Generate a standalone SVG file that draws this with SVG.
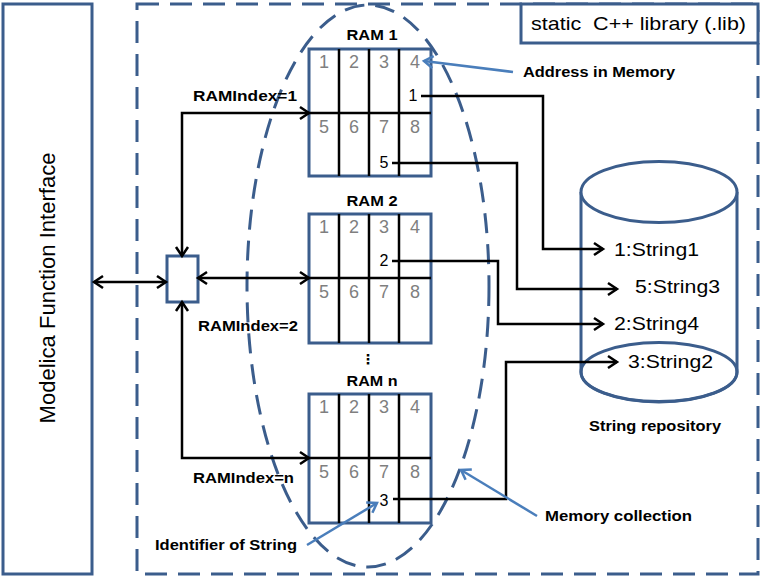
<svg xmlns="http://www.w3.org/2000/svg" width="763" height="577" viewBox="0 0 763 577">
<style>
.blue{fill:none;stroke:#3b5d8c;stroke-width:3}
.dash{fill:none;stroke:#3b5d8c;stroke-width:3;stroke-dasharray:22 11}
.blk{fill:none;stroke:#000;stroke-width:2.5}
.barrow{fill:none;stroke:#4a7ebb;stroke-width:2.5}
.grid{fill:#fff;stroke:#3b5d8c;stroke-width:3}
.gl{stroke:#000;stroke-width:2.5}
.t{font-family:"Liberation Sans",Arial,sans-serif}
.b{font-family:"Liberation Sans",Arial,sans-serif;font-weight:bold;font-size:15px;fill:#000}
.g{font-family:"Liberation Sans",Arial,sans-serif;font-size:18px;fill:#7f7f7f;text-anchor:middle}
.n{font-family:"Liberation Sans",Arial,sans-serif;font-size:16px;fill:#000;text-anchor:middle}
.s{font-family:"Liberation Sans",Arial,sans-serif;font-size:18px;fill:#000}
</style>
<defs>
<marker id="ah" markerWidth="14" markerHeight="16" refX="11" refY="8" orient="auto-start-reverse" markerUnits="userSpaceOnUse">
<path d="M2,2 L11,8 L2,14" fill="none" stroke="#000" stroke-width="2.5"/>
</marker>
<marker id="bh" markerWidth="14" markerHeight="16" refX="11" refY="8" orient="auto" markerUnits="userSpaceOnUse">
<path d="M2,2 L11,8 L2,14" fill="none" stroke="#4a7ebb" stroke-width="2.5"/>
</marker>
</defs>
<rect width="763" height="577" fill="#fff"/>

<g id="interface">
<rect class="blue" x="3" y="4" width="89" height="570"/>
<text class="t" font-size="22" transform="translate(55,288) rotate(-90)" text-anchor="middle" textLength="271" lengthAdjust="spacingAndGlyphs">Modelica Function Interface</text>
</g>

<g id="library">
<rect class="dash" x="137" y="4" width="621" height="570"/>
<rect x="521" y="4" width="237" height="39" fill="#fff" stroke="#3b5d8c" stroke-width="3"/>
<text class="t" font-size="19" x="531" y="30" textLength="215" lengthAdjust="spacingAndGlyphs" xml:space="preserve">static  C++ library (.lib)</text>
</g>

<g id="memory-collection">
<ellipse cx="368" cy="286" rx="121" ry="281" fill="none" stroke="#3b5d8c" stroke-width="3" stroke-dasharray="20 11"/>
</g>

<g id="mux">
<rect x="167" y="256" width="31" height="46" fill="#fff" stroke="#3b5d8c" stroke-width="3"/>
</g>

<g id="ram1">
<rect class="grid" x="309" y="49" width="122" height="127"/>
<line class="gl" x1="339" y1="49" x2="339" y2="176"/>
<line class="gl" x1="369" y1="49" x2="369" y2="176"/>
<line class="gl" x1="399" y1="49" x2="399" y2="176"/>
<line class="gl" x1="309" y1="113" x2="431" y2="113"/>
<text class="b" x="372" y="40" text-anchor="middle" textLength="51" lengthAdjust="spacingAndGlyphs">RAM 1</text>
<text class="g" x="324" y="68">1</text><text class="g" x="354" y="68">2</text><text class="g" x="384" y="68">3</text><text class="g" x="415" y="68">4</text>
<text class="g" x="324" y="133">5</text><text class="g" x="354" y="133">6</text><text class="g" x="384" y="133">7</text><text class="g" x="415" y="133">8</text>
<text class="n" x="413" y="101">1</text>
<text class="n" x="384" y="168">5</text>
</g>

<g id="ram2">
<rect class="grid" x="309" y="214" width="122" height="129"/>
<line class="gl" x1="339" y1="214" x2="339" y2="343"/>
<line class="gl" x1="369" y1="214" x2="369" y2="343"/>
<line class="gl" x1="399" y1="214" x2="399" y2="343"/>
<line class="gl" x1="309" y1="278" x2="431" y2="278"/>
<text class="b" x="372" y="206" text-anchor="middle" textLength="51" lengthAdjust="spacingAndGlyphs">RAM 2</text>
<text class="g" x="324" y="233">1</text><text class="g" x="354" y="233">2</text><text class="g" x="384" y="233">3</text><text class="g" x="415" y="233">4</text>
<text class="g" x="324" y="298">5</text><text class="g" x="354" y="298">6</text><text class="g" x="384" y="298">7</text><text class="g" x="415" y="298">8</text>
<text class="n" x="384" y="266">2</text>
</g>

<g id="ellipsis">
<text x="368" y="364" font-family="DejaVu Sans,sans-serif" font-weight="bold" font-size="14" text-anchor="middle">⋮</text>
</g>

<g id="ramn">
<rect class="grid" x="309" y="394" width="122" height="129"/>
<line class="gl" x1="339" y1="394" x2="339" y2="523"/>
<line class="gl" x1="369" y1="394" x2="369" y2="523"/>
<line class="gl" x1="399" y1="394" x2="399" y2="523"/>
<line class="gl" x1="309" y1="458" x2="431" y2="458"/>
<text class="b" x="372" y="386" text-anchor="middle" textLength="51" lengthAdjust="spacingAndGlyphs">RAM n</text>
<text class="g" x="324" y="413">1</text><text class="g" x="354" y="413">2</text><text class="g" x="384" y="413">3</text><text class="g" x="415" y="413">4</text>
<text class="g" x="324" y="478">5</text><text class="g" x="354" y="478">6</text><text class="g" x="384" y="478">7</text><text class="g" x="415" y="478">8</text>
<text class="n" x="384" y="506">3</text>
</g>

<g id="repository">
<path d="M581,192 V372 A78,30 0 0 0 737,372 V192" fill="#fff" stroke="#3b5d8c" stroke-width="3"/>
<ellipse cx="659" cy="192" rx="78" ry="30.5" fill="#fff" stroke="#3b5d8c" stroke-width="3"/>
<ellipse cx="659" cy="372" rx="78" ry="29.5" fill="none" stroke="#3b5d8c" stroke-width="3"/>
<text class="s" x="614" y="256" textLength="85" lengthAdjust="spacingAndGlyphs">1:String1</text>
<text class="s" x="635" y="293" textLength="85" lengthAdjust="spacingAndGlyphs">5:String3</text>
<text class="s" x="614" y="330" textLength="85" lengthAdjust="spacingAndGlyphs">2:String4</text>
<text class="s" x="628" y="368" textLength="85" lengthAdjust="spacingAndGlyphs">3:String2</text>
<text class="b" x="589" y="431" textLength="132" lengthAdjust="spacingAndGlyphs">String repository</text>
</g>

<g id="connectors">
<path class="blk" d="M94,282 H166" marker-start="url(#ah)" marker-end="url(#ah)"/>
<path class="blk" d="M182,256 V113 H309" marker-start="url(#ah)" marker-end="url(#ah)"/>
<path class="blk" d="M198,278 H309" marker-start="url(#ah)" marker-end="url(#ah)"/>
<path class="blk" d="M182,302 V458 H309" marker-start="url(#ah)" marker-end="url(#ah)"/>
<path class="blk" d="M421,96 H543 V249 H603" marker-end="url(#ah)"/>
<path class="blk" d="M392,163 H517 V289 H617" marker-end="url(#ah)"/>
<path class="blk" d="M392,261 H498 V324 H603" marker-end="url(#ah)"/>
<path class="blk" d="M393,499 H506 V362 H617" marker-end="url(#ah)"/>
<path class="barrow" d="M513,72 L424,61" marker-end="url(#bh)"/>
<path class="barrow" d="M537,516 L461,470" marker-end="url(#bh)"/>
<path class="barrow" d="M307,545 L377,503" marker-end="url(#bh)"/>
</g>

<g id="labels">
<text class="b" x="193" y="101" textLength="104" lengthAdjust="spacingAndGlyphs">RAMIndex=1</text>
<text class="b" x="198" y="331" textLength="100" lengthAdjust="spacingAndGlyphs">RAMIndex=2</text>
<text class="b" x="193" y="483" textLength="101" lengthAdjust="spacingAndGlyphs">RAMIndex=n</text>
<text class="b" x="523" y="77" textLength="152" lengthAdjust="spacingAndGlyphs">Address in Memory</text>
<text class="b" x="545" y="521" textLength="147" lengthAdjust="spacingAndGlyphs">Memory collection</text>
<text class="b" x="155" y="550" textLength="142" lengthAdjust="spacingAndGlyphs">Identifier of String</text>
</g>
</svg>
